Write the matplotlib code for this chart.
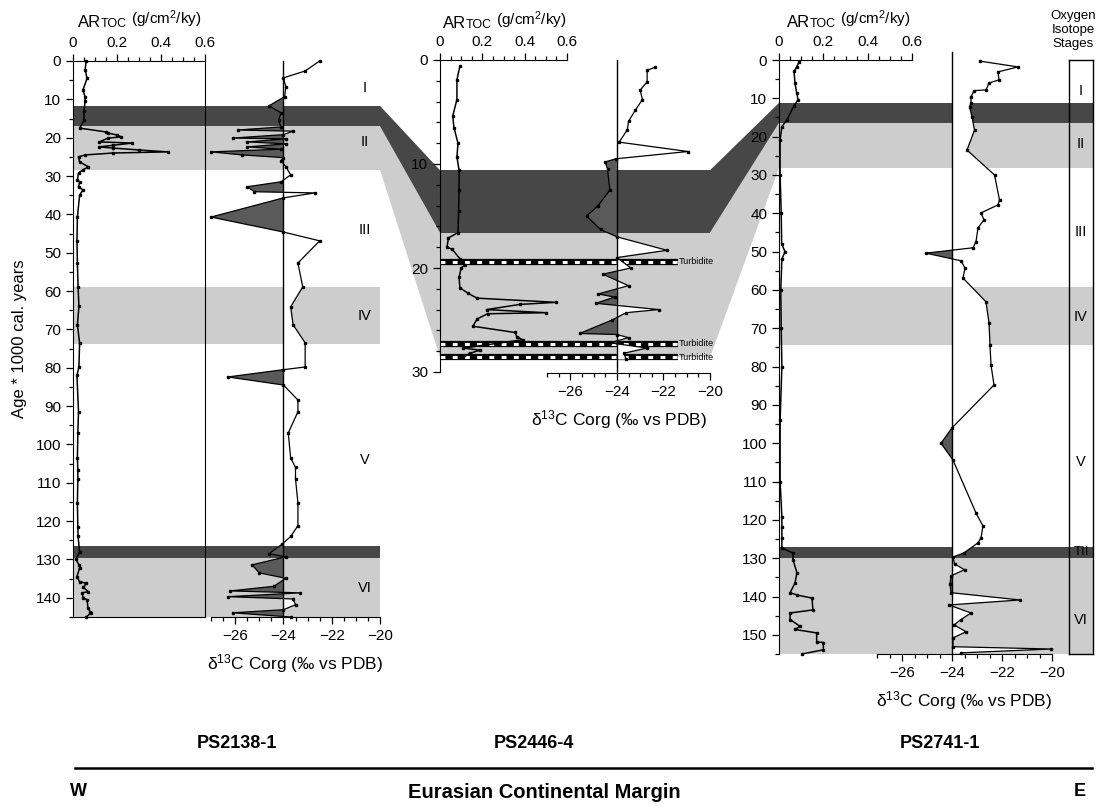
import numpy as np
import matplotlib
matplotlib.use('Agg')
import matplotlib.pyplot as plt
from matplotlib.patches import Polygon
from matplotlib.lines import Line2D
from matplotlib.ticker import MultipleLocator, FuncFormatter

# ---- values (age in ka) ----

# PS2138-1 (west)
left_artoc_age = [0, 2.3, 4.5, 7.6, 9.3, 10.5, 13, 15.5, 17.5, 18.5,
                  18.8, 19.3, 19.8, 20.1, 21.1, 21.4, 22.0, 22.4, 22.7, 23.2,
                  23.7, 24.0, 24.5, 25.0, 26.3, 27.6, 28.4, 29.2, 31.0, 31.5,
                  32.8, 33.6, 35.0, 40.7, 47.0, 52.7, 58.9, 64.0, 68.8, 73.5,
                  79.8, 82.0, 91.5, 97.0, 103.5, 106.6, 109.0, 115.2, 121.5, 124.0,
                  128.0, 130.0, 131.4, 132.2, 134.5, 135.8, 136.2, 137.3, 138.4, 138.7,
                  140.0, 140.5, 142.6, 143.6, 144.0, 145.0]
left_artoc_val = [0.06, 0.055, 0.064, 0.045, 0.055, 0.055, 0.05, 0.05, 0.03, 0.15,
                  0.16, 0.2, 0.22, 0.16, 0.12, 0.27, 0.18, 0.12, 0.18, 0.3,
                  0.43, 0.18, 0.055, 0.025, 0.03, 0.07, 0.045, 0.025, 0.02, 0.03,
                  0.025, 0.045, 0.03, 0.02, 0.018, 0.02, 0.023, 0.027, 0.02, 0.03,
                  0.027, 0.018, 0.025, 0.022, 0.02, 0.022, 0.022, 0.02, 0.022, 0.023,
                  0.03, 0.014, 0.027, 0.03, 0.018, 0.03, 0.06, 0.047, 0.07, 0.04,
                  0.047, 0.064, 0.068, 0.077, 0.08, 0.06]
left_d13c_age = [0, 2.6, 4.4, 6.8, 9.3, 11.7, 13.5, 15.5, 17.2, 18.0,
                 18.3, 19.2, 20.1, 20.3, 21.1, 21.6, 22.4, 23.0, 23.7, 24.5,
                 25.2, 26.0, 27.6, 29.7, 31.5, 32.8, 34.1, 34.4, 35.7, 40.7,
                 44.6, 46.9, 52.7, 58.9, 64.1, 68.8, 73.5, 79.8, 80.5, 82.4,
                 84.5, 88.4, 91.5, 97.0, 103.5, 106.0, 109.0, 115.2, 121.2, 124.0,
                 126.0, 128.5, 129.3, 131.4, 133.5, 134.9, 137.0, 138.2, 138.7, 139.7,
                 140.3, 141.8, 143.1, 143.9, 145.0]
left_d13c_val = [-22.5, -23.1, -24.0, -23.9, -23.95, -24.6, -24.1, -24.2, -24.1, -25.9,
                 -23.6, -24.0, -26.1, -23.9, -25.5, -23.9, -25.5, -24.1, -27.0, -25.7,
                 -24.0, -24.1, -23.9, -23.7, -24.1, -25.5, -25.2, -22.7, -24.0, -27.0,
                 -24.0, -22.5, -23.4, -23.2, -23.7, -23.6, -23.1, -23.1, -24.0, -26.3,
                 -24.0, -23.4, -23.4, -23.8, -23.7, -23.5, -23.5, -23.4, -23.4, -23.7,
                 -24.05, -24.6, -23.9, -25.3, -25.0, -23.9, -24.4, -26.2, -23.3, -26.3,
                 -23.6, -23.5, -24.0, -26.1, -23.7]
left_dark = [(11.7, 17.0), (126.4, 129.6)]
left_light = [(17.0, 28.4), (58.9, 73.8), (129.6, 145.0)]
left_stage_names = ['I', 'II', 'III', 'IV', 'V', 'VI']
left_stage_ages = [7.0, 21.1, 44.1, 66.5, 104.0, 137.4]

# PS2446-4 (middle)
mid_artoc_age = [0.6, 1.9, 3.8, 5.4, 6.5, 8.0, 9.3, 10.6, 12.5, 14.5,
                 16.6, 17.1, 18.0, 18.2, 19.1, 19.7, 20.0, 20.9, 21.9, 22.4,
                 22.9, 23.3, 23.5, 24.0, 24.3, 24.4, 24.9, 25.6, 26.2, 26.6,
                 26.9, 27.7, 27.9, 28.2, 28.6]
mid_artoc_val = [0.094, 0.08, 0.08, 0.06, 0.066, 0.085, 0.08, 0.09, 0.09, 0.088,
                 0.085, 0.04, 0.033, 0.057, 0.094, 0.118, 0.1, 0.09, 0.094, 0.13,
                 0.175, 0.55, 0.378, 0.22, 0.50, 0.225, 0.175, 0.156, 0.354, 0.363,
                 0.39, 0.11, 0.19, 0.14, 0.11]
mid_d13c_age = [0.7, 1.0, 2.1, 2.9, 3.8, 4.8, 5.9, 6.7, 7.9, 8.8,
                9.5, 9.8, 10.5, 12.5, 14.0, 15.0, 16.3, 17.0, 18.3, 19.0,
                20.0, 20.6, 21.7, 22.5, 22.8, 23.4, 24.0, 24.3, 25.0, 26.3,
                26.4, 26.7, 27.2, 27.7, 28.2, 28.8]
mid_d13c_val = [-22.37, -22.7, -22.7, -23.0, -22.9, -23.2, -23.5, -23.55, -23.9, -20.95,
                -24.04, -24.5, -24.4, -24.3, -24.8, -25.3, -24.7, -24.0, -21.85, -24.0,
                -23.4, -24.6, -23.5, -24.8, -24.1, -24.9, -22.2, -23.6, -24.2, -25.6,
                -24.0, -23.5, -24.3, -22.7, -23.7, -23.6]
mid_dark = [(10.6, 16.6)]
mid_light = [(16.6, 28.6)]
turbidite_ages = [19.4, 27.3, 28.6]

# PS2741-1 (east)
right_artoc_age = [0.5, 1.8, 3.0, 6.0, 8.6, 10.4, 11.9, 15.6, 17.4, 20.8,
                   30, 40, 48, 50, 52, 60, 70, 80, 94, 110,
                   119.2, 121.8, 124.7, 127.3, 128.7, 130.4, 133.8, 136.5, 139.0, 139.6,
                   140.4, 143.5, 144.3, 146.0, 147.8, 148.6, 149.5, 151.8, 152.0, 153.9,
                   155.0]
right_artoc_val = [0.09, 0.08, 0.068, 0.072, 0.08, 0.086, 0.068, 0.036, 0.013, 0.005,
                   0.005, 0.01, 0.012, 0.027, 0.013, 0.008, 0.01, 0.013, 0.005, 0.005,
                   0.013, 0.013, 0.013, 0.013, 0.063, 0.063, 0.081, 0.072, 0.05, 0.081,
                   0.149, 0.153, 0.05, 0.05, 0.095, 0.072, 0.17, 0.17, 0.2, 0.2,
                   0.104]
right_d13c_age = [0.3, 1.8, 3.1, 5.2, 6.0, 7.8, 8.0, 9.6, 11.2, 12.2,
                  14.8, 18.3, 23.5, 30.0, 36.5, 37.8, 39.9, 41.7, 43.8, 47.4,
                  49.0, 50.4, 52.4, 54.3, 56.9, 63.1, 68.6, 74.4, 79.6, 84.8,
                  96.0, 100.0, 104.4, 118.2, 121.6, 124.7, 126.0, 128.6, 129.7, 131.5,
                  133.0, 134.6, 136.8, 139.0, 140.9, 142.2, 144.3, 146.0, 147.4, 149.2,
                  150.8, 153.1, 153.7, 154.7]
right_d13c_val = [-22.88, -21.36, -22.16, -22.12, -22.52, -22.64, -23.12, -23.24, -23.24, -23.3,
                  -23.2, -23.1, -23.4, -22.3, -22.1, -22.16, -22.84, -22.72, -22.96, -23.04,
                  -23.16, -25.04, -23.64, -23.48, -23.56, -22.64, -22.52, -22.48, -22.44, -22.32,
                  -24.0, -24.44, -23.96, -23.04, -22.76, -22.84, -22.96, -23.52, -23.96, -23.9,
                  -23.5, -24.04, -24.08, -24.04, -21.28, -24.12, -23.24, -23.64, -23.92, -23.44,
                  -23.96, -23.96, -20.04, -23.64]
right_dark = [(11.2, 16.4), (127.0, 130.0)]
right_light = [(16.4, 28.2), (59.2, 74.4), (130.0, 155.0)]
stage_box_names = ['I', 'II', 'III', 'IV', 'V', 'TII', 'VI']
stage_box_ages = [8, 22, 45, 67, 105, 128.5, 146]

LIGHT = '#cdcdcd'
DARK = '#474747'
NEG = '#5a5a5a'

plt.rcParams['font.family'] = ['Liberation Sans', 'DejaVu Sans']
plt.rcParams['mathtext.default'] = 'regular'

W, H = 1100, 807
fig = plt.figure(figsize=(W / 100, H / 100), dpi=100)


def px_axes(x0, y0, x1, y1):
    # place an axes by its pixel box (y measured from the top)
    ax = fig.add_axes([x0 / W, 1 - y1 / H, (x1 - x0) / W, (y1 - y0) / H])
    ax.patch.set_visible(False)
    return ax


def band_axes(box, ymax, dark, light):
    ax = px_axes(*box)
    for a, b in light:
        ax.axhspan(a, b, color=LIGHT, lw=0)
    for a, b in dark:
        ax.axhspan(a, b, color=DARK, lw=0)
    ax.set_xlim(0, 1)
    ax.set_ylim(ymax, 0)
    ax.axis('off')
    return ax


def artoc_axes(box, ages, vals, ymax, closed, yminor):
    ax = px_axes(*box)
    ax.plot(vals, ages, '-s', color='k', lw=1.1, ms=1.9, clip_on=False)
    ax.set_xlim(0, 0.6)
    ax.set_ylim(ymax, 0)
    ax.xaxis.tick_top()
    ax.xaxis.set_major_locator(MultipleLocator(0.2))
    ax.xaxis.set_minor_locator(MultipleLocator(0.05))
    ax.xaxis.set_major_formatter(FuncFormatter(lambda v, p: f'{v:g}'))
    ax.yaxis.set_major_locator(MultipleLocator(10))
    ax.yaxis.set_minor_locator(MultipleLocator(yminor))
    ax.tick_params(which='both', direction='out', labelsize=11, width=0.9)
    ax.tick_params(which='major', length=5)
    ax.tick_params(which='minor', length=3)
    ax.tick_params(axis='x', pad=3)
    ax.spines['right'].set_visible(closed)
    ax.spines['bottom'].set_visible(closed)
    return ax


def d13c_axes(box, ages, vals, ymax, line_top=1.0):
    ax = px_axes(*box)
    ages = np.asarray(ages)
    vals = np.asarray(vals)
    ax.fill_betweenx(ages, vals, -24, where=vals < -24, interpolate=True, color=NEG, lw=0)
    ax.fill_betweenx(ages, vals, -24, where=vals > -24, interpolate=True, color='white', lw=0)
    ax.axvline(-24, ymin=0, ymax=line_top, color='k', lw=1, clip_on=False)
    ax.plot(vals, ages, '-s', color='k', lw=0.9, ms=1.8, clip_on=False)
    ax.set_xlim(-27, -20)
    ax.set_ylim(ymax, 0)
    for s in ('left', 'right', 'top'):
        ax.spines[s].set_visible(False)
    ax.set_yticks([])
    ax.xaxis.set_major_locator(MultipleLocator(2))
    ax.xaxis.set_minor_locator(MultipleLocator(0.5))
    ax.tick_params(which='both', direction='out', labelsize=11, width=0.9)
    ax.tick_params(which='major', length=5)
    ax.tick_params(which='minor', length=3)
    ax.set_xlabel('δ$^{13}$C Corg (‰ vs PDB)', fontsize=12.5, labelpad=7)
    return ax


def artoc_title(ax, x, y):
    t1 = ax.annotate('AR', xy=(x / W, 1 - y / H), xycoords='figure fraction',
                     fontsize=12, va='baseline', ha='left')
    t2 = ax.annotate('TOC', xy=(1, 0), xycoords=t1, fontsize=9, va='bottom', ha='left')
    ax.annotate(' (g/cm$^{2}$/ky)', xy=(1, 0), xycoords=t2, fontsize=11,
                va='bottom', ha='left')


def to_fig(ax, x, y):
    return fig.transFigure.inverted().transform(ax.transData.transform((x, y)))


def connector(ax_a, xa, ax_b, xb, span_a, span_b, color):
    pts = [to_fig(ax_a, xa, span_a[0]), to_fig(ax_b, xb, span_b[0]),
           to_fig(ax_b, xb, span_b[1]), to_fig(ax_a, xa, span_a[1])]
    fig.add_artist(Polygon(pts, closed=True, transform=fig.transFigure,
                           facecolor=color, edgecolor='none', zorder=-1))


# ---- band backgrounds ----
L_band = band_axes((73, 61, 380, 617), 145, left_dark, left_light)
M_band = band_axes((440, 60, 710, 372), 30, mid_dark, mid_light)
R_band = band_axes((779, 60, 1093, 654), 155, right_dark, right_light)

# slanted links between the cores
connector(L_band, 1, M_band, 0, left_light[0], mid_light[0], LIGHT)
connector(L_band, 1, M_band, 0, left_dark[0], mid_dark[0], DARK)
connector(M_band, 1, R_band, 0, mid_light[0], right_light[0], LIGHT)
connector(M_band, 1, R_band, 0, mid_dark[0], right_dark[0], DARK)

for name, age in zip(left_stage_names, left_stage_ages):
    L_band.text(0.95, age, name, ha='center', va='center', fontsize=10.5)

for age in turbidite_ages:
    M_band.axhline(age, xmin=0, xmax=0.88, color='k', lw=4.5, solid_capstyle='butt')
    M_band.axhline(age, xmin=0, xmax=0.88, color='white', lw=2.2, dashes=(1.6, 2.4))
    M_band.text(0.885, age, 'Turbidite', ha='left', va='center', fontsize=6.5,
                clip_on=False)

# ---- δ13C panels ----
L_d = d13c_axes((211, 61, 380, 617), left_d13c_age, left_d13c_val, 145)
M_d = d13c_axes((547, 60, 710, 373), mid_d13c_age, mid_d13c_val, 30.1)
R_d = d13c_axes((877, 60, 1052, 654), right_d13c_age, right_d13c_val, 155, line_top=1.013)
M_d.xaxis.label.set_x(0.44)

# ---- ARTOC panels ----
L_a = artoc_axes((73, 61, 205, 617), left_artoc_age, left_artoc_val, 145, True, 5)
M_a = artoc_axes((440, 60, 567, 372), mid_artoc_age, mid_artoc_val, 30, False, 2)
R_a = artoc_axes((779, 60, 912, 654), right_artoc_age, right_artoc_val, 155, False, 5)
L_a.set_ylabel('Age * 1000 cal. years', fontsize=12, labelpad=6)

artoc_title(L_a, 78, 27)
artoc_title(M_a, 443, 28)
artoc_title(R_a, 787, 27)

# ---- oxygen isotope stage column ----
S = px_axes(1069, 60, 1093, 654)
S.set_xlim(0, 1)
S.set_ylim(155, 0)
S.set_xticks([])
S.set_yticks([])
for sp in S.spines.values():
    sp.set_linewidth(1.0)
for name, age in zip(stage_box_names, stage_box_ages):
    S.text(0.5, age, name, ha='center', va='center',
           fontsize=9.5 if name == 'TII' else 10.5)
fig.text(1073 / W, 1 - 30 / H, 'Oxygen\nIsotope\nStages', ha='center', va='center',
         fontsize=9.5, linespacing=1.2)

# ---- core names and transect ----
for name, x in zip(['PS2138-1', 'PS2446-4', 'PS2741-1'], [237, 534, 940]):
    fig.text(x / W, 1 - 743 / H, name, ha='center', va='center',
             fontsize=13, fontweight='bold')
fig.add_artist(Line2D([75 / W, 1092 / W], [1 - 768 / H, 1 - 768 / H], color='k', lw=1.8))
fig.text(78 / W, 1 - 792 / H, 'W', ha='center', va='center', fontsize=13, fontweight='bold')
fig.text(544 / W, 1 - 792 / H, 'Eurasian Continental Margin', ha='center', va='center',
         fontsize=14.5, fontweight='bold')
fig.text(1080 / W, 1 - 792 / H, 'E', ha='center', va='center', fontsize=13, fontweight='bold')

fig.savefig('out.png', dpi=100, facecolor='white')
